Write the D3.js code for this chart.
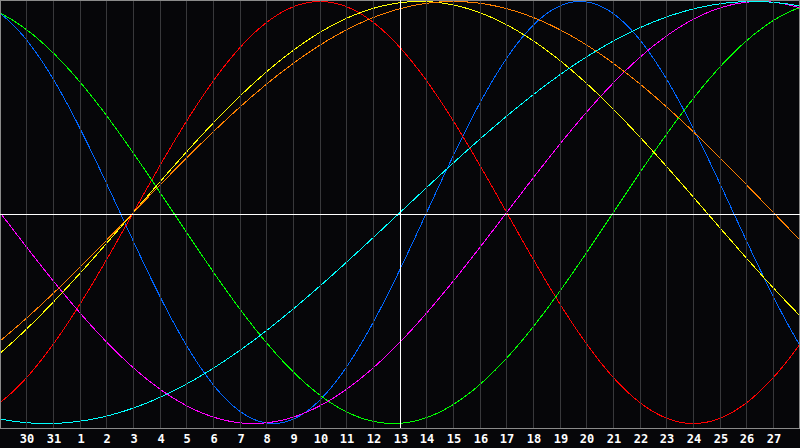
<!DOCTYPE html>
<html>
<head>
<meta charset="utf-8">
<script src="https://cdn.jsdelivr.net/npm/d3@7/dist/d3.min.js"></script>
<style>
  html, body { margin: 0; padding: 0; background: #060609; }
  svg { display: block; }
</style>
</head>
<body>
<svg id="chart" width="800" height="448"></svg>
<script>
// ---- data ----
const dayLabels = ["30","31","1","2","3","4","5","6","7","8","9","10","11","12","13","14","15","16","17","18","19","20","21","22","23","24","25","26","27"];
const cycleNames   = ["physical","emotional","intellectual","intuitive","aesthetic","awareness","spiritual"];
const cyclePeriods = [23, 28, 33, 38, 43, 48, 53];
const cycleColors  = ["#0066ff","#ff0000","#00ff00","#ff00ff","#ffff00","#ff8000","#00ffff"];
const centerDayIndex = 15;      // slot of the highlighted day ("13")
const daysLivedAtCenter = 43354; // days since birth on the highlighted day
const slotCount = 30;

// ---- layout ----
const W = 800, plotBottom = 428;
const svg = d3.select("#chart");
svg.append("rect").attr("width", W).attr("height", 448).attr("fill", "#060609");

const x = d3.scaleLinear().domain([0, slotCount]).range([0, W]);
const y = d3.scaleLinear().domain([-1, 1]).range([423.5, 1.5]);
const px = v => Math.floor(v) + 0.5;

// grid lines
const g = svg.append("g").attr("shape-rendering", "crispEdges");
g.selectAll("line.grid").data(dayLabels).enter().append("line")
  .attr("class", "grid")
  .attr("x1", (d, i) => px(x(i + 1))).attr("x2", (d, i) => px(x(i + 1)))
  .attr("y1", 0).attr("y2", plotBottom)
  .attr("stroke", "#38383b").attr("stroke-width", 1);

// border
g.append("rect").attr("x", 0.5).attr("y", 0.5).attr("width", W - 1).attr("height", plotBottom)
  .attr("fill", "none").attr("stroke", "#8a8a8a").attr("stroke-width", 1);

// curves
const samples = d3.range(0, slotCount + 0.0001, 0.02);
const line = d3.line()
  .x(d => x(d[0]))
  .y(d => y(d[1]))
  .curve(d3.curveLinear);

const curveG = svg.append("g").attr("shape-rendering", "crispEdges");
cyclePeriods.forEach((p, k) => {
  const pts = samples.map(s => {
    const t = daysLivedAtCenter + (s - centerDayIndex);
    return [s, Math.sin(2 * Math.PI * (t % p) / p)];
  });
  curveG.append("path")
    .attr("d", line(pts))
    .attr("fill", "none")
    .attr("stroke", cycleColors[k])
    .attr("stroke-width", 1)
    .attr("data-name", cycleNames[k]);
});

// center cross lines
g.append("line")
  .attr("x1", 0).attr("x2", W).attr("y1", 214.5).attr("y2", 214.5)
  .attr("stroke", "#ffffff").attr("stroke-width", 1).attr("shape-rendering", "crispEdges");
g.append("line")
  .attr("x1", px(x(centerDayIndex))).attr("x2", px(x(centerDayIndex)))
  .attr("y1", 0).attr("y2", plotBottom)
  .attr("stroke", "#ffffff").attr("stroke-width", 1).attr("shape-rendering", "crispEdges");
svg.node().appendChild(g.node());

// day labels
svg.append("g").selectAll("text").data(dayLabels).enter().append("text")
  .attr("x", (d, i) => Math.floor(x(i + 1)) + 1)
  .attr("y", 443)
  .attr("text-anchor", "middle")
  .attr("font-family", "'DejaVu Sans Mono', monospace")
  .attr("font-weight", "bold")
  .attr("font-size", "12px")
  .attr("fill", "#ffffff")
  .text(d => d);
</script>
</body>
</html>
